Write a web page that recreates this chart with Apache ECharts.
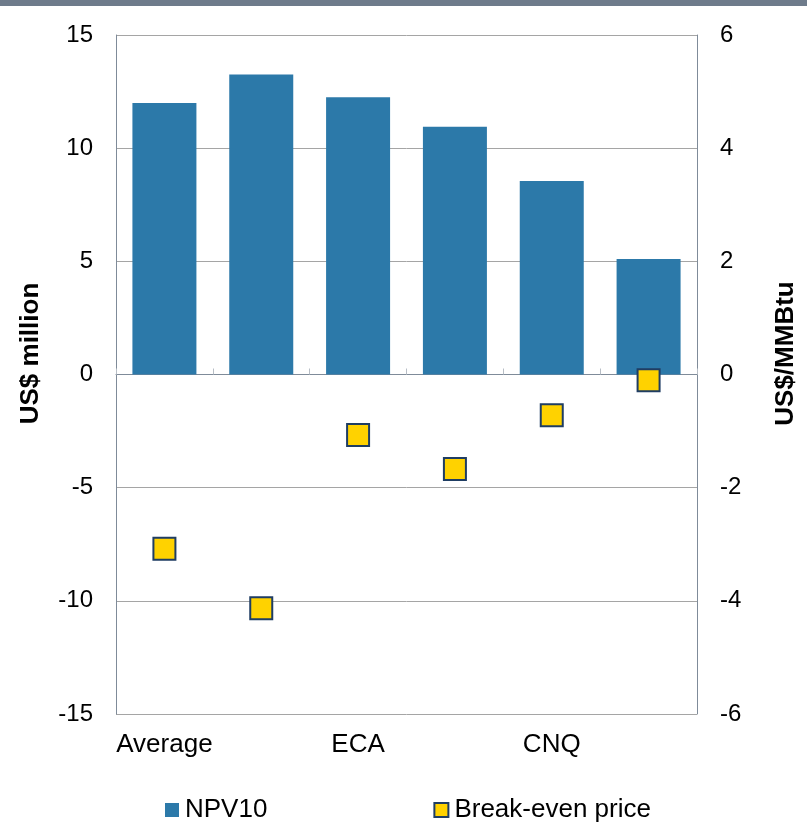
<!DOCTYPE html>
<html lang="en">
<head>
    <meta charset="UTF-8">
    <title>NPV10 and break-even price</title>
    <script src="https://cdn.jsdelivr.net/npm/echarts@6/dist/echarts.min.js"></script>
    <style>
        html, body { margin: 0; padding: 0; background: #fff; }
    </style>
</head>
<body>
    <div id="chart" style="width: 807px;height: 824px;"></div>
    <script type="text/javascript">
        // categories (only every other one is labelled on the axis)
        var categories = ['Average', 'B', 'ECA', 'D', 'CNQ', 'F'];
        // NPV10, US$ million (left axis)
        var npv10 = [12.0, 13.25, 12.25, 10.95, 8.55, 5.1];
        // break-even price, US$/MMBtu (right axis)
        var breakEven = [-3.08, -4.13, -1.07, -1.67, -0.72, -0.1];

        var leftTicks = { min: -15, max: 15, interval: 5 };
        var rightTicks = { min: -6, max: 6, interval: 2 };

        var font = 'Liberation Sans, Arial, sans-serif';
        var axisGrey = '#7f8b99';
        var gridGrey = '#a5a5a5';

        var myChart = echarts.init(document.getElementById('chart'));
        myChart.setOption({
            backgroundColor: '#fff',
            animation: false,
            textStyle: { fontFamily: font, color: '#000' },
            graphic: [{
                // grey band along the top of the slide
                type: 'rect',
                shape: { x: 0, y: 0, width: 807, height: 6 },
                style: { fill: '#6e7b8b' }
            }],
            grid: { left: 116, right: 110, top: 35, bottom: 110 },
            legend: {
                top: 792,
                left: 160,
                itemGap: 166,
                itemWidth: 14,
                itemHeight: 14,
                textStyle: { fontSize: 26, fontFamily: font, color: '#000', padding: [0, 0, 0, 1] },
                data: [
                    { name: 'NPV10', icon: 'rect' },
                    { name: 'Break-even price', icon: 'rect' }
                ]
            },
            xAxis: [{
                // axis line through zero with the small category ticks
                type: 'category',
                data: categories,
                axisLine: { onZero: true, lineStyle: { color: axisGrey, width: 1 } },
                axisTick: { show: true, inside: true, length: 6, lineStyle: { color: '#b8bec6' } },
                axisLabel: { show: false },
                splitLine: { show: false }
            }, {
                // bottom labels
                type: 'category',
                data: categories,
                position: 'bottom',
                axisLine: { show: false, onZero: false },
                axisTick: { show: false },
                axisLabel: {
                    interval: 1,
                    fontSize: 26,
                    margin: 18,
                    color: '#000',
                    fontFamily: font
                }
            }],
            yAxis: [{
                type: 'value',
                min: leftTicks.min,
                max: leftTicks.max,
                interval: leftTicks.interval,
                name: 'US$ million',
                nameLocation: 'middle',
                nameRotate: 90,
                nameGap: 72,
                nameTextStyle: { fontSize: 26, fontWeight: 'bold', color: '#000', fontFamily: font, padding: [0, 0, 0, 42] },
                axisLine: { show: true, lineStyle: { color: axisGrey } },
                axisTick: { show: false },
                axisLabel: { fontSize: 24, margin: 23, color: '#000', fontFamily: font },
                splitLine: { show: true, lineStyle: { color: gridGrey, width: 1 } }
            }, {
                type: 'value',
                min: rightTicks.min,
                max: rightTicks.max,
                interval: rightTicks.interval,
                position: 'right',
                name: 'US$/MMBtu',
                nameLocation: 'middle',
                nameRotate: 90,
                nameGap: 76,
                nameTextStyle: { fontSize: 26, fontWeight: 'bold', color: '#000', fontFamily: font, padding: [0, 0, 0, 42] },
                axisLine: { show: true, lineStyle: { color: axisGrey } },
                axisTick: { show: false },
                axisLabel: { fontSize: 24, margin: 23, color: '#000', fontFamily: font },
                splitLine: { show: false }
            }],
            series: [{
                name: 'NPV10',
                type: 'bar',
                xAxisIndex: 0,
                yAxisIndex: 0,
                barWidth: 64,
                itemStyle: { color: '#2c79a9' },
                data: npv10
            }, {
                name: 'Break-even price',
                type: 'scatter',
                xAxisIndex: 0,
                yAxisIndex: 1,
                symbol: 'rect',
                symbolSize: 22,
                itemStyle: { color: '#ffd200', borderColor: '#1f3d63', borderWidth: 2, opacity: 1 },
                z: 5,
                data: breakEven
            }]
        });
    </script>
</body>
</html>
